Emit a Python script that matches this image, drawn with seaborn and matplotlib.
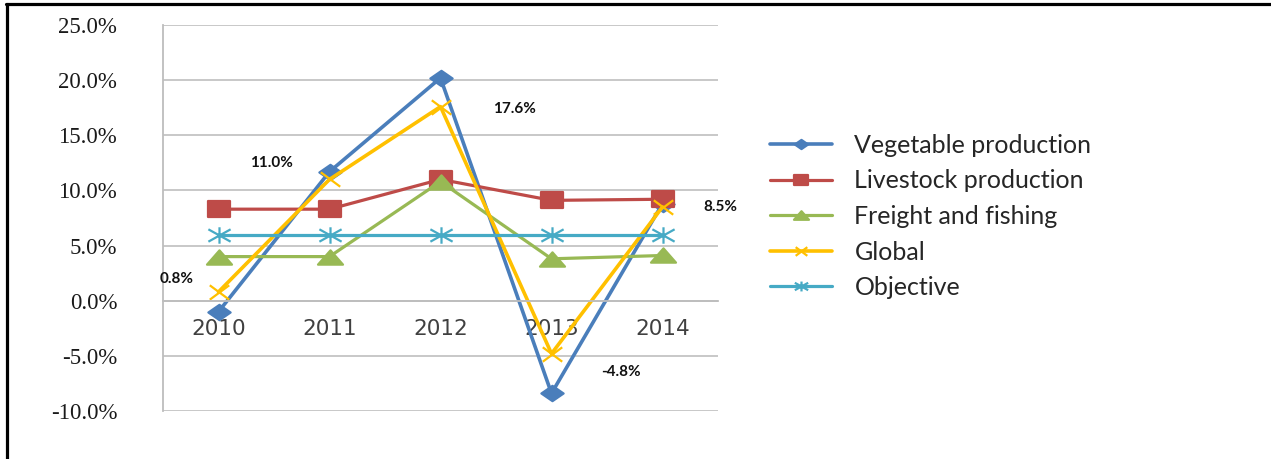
import numpy as np
import pandas as pd
import seaborn as sns
import matplotlib.pyplot as plt
from matplotlib.path import Path
from matplotlib.lines import Line2D
from matplotlib.ticker import FuncFormatter, FixedLocator

# data (growth rate, %)
years = ["2010", "2011", "2012", "2013", "2014"]
vegetable = [-1.0, 11.7, 20.2, -8.4, 8.8]
livestock = [8.3, 8.3, 11.0, 9.1, 9.2]
freight = [4.0, 4.0, 10.8, 3.8, 4.1]
global_rate = [0.8, 11.0, 17.6, -4.8, 8.5]
objective = [6.0, 6.0, 6.0, 6.0, 6.0]

series_names = ["Vegetable production", "Livestock production",
                "Freight and fishing", "Global", "Objective"]
series_values = [vegetable, livestock, freight, global_rate, objective]
global_labels = ["0.8%", "11.0%", "17.6%", "-4.8%", "8.5%"]

colors = ["#4a7ebb", "#be4b48", "#98b954", "#ffc000", "#46aac5"]

# markers a bit wider than tall, like the original
diamond = Path([(0, 1), (1.45, 0), (0, -1), (-1.45, 0), (0, 1)],
               [Path.MOVETO, Path.LINETO, Path.LINETO, Path.LINETO, Path.CLOSEPOLY])
square = Path([(-1.45, -1), (1.45, -1), (1.45, 1), (-1.45, 1), (-1.45, -1)],
              [Path.MOVETO, Path.LINETO, Path.LINETO, Path.LINETO, Path.CLOSEPOLY])
triangle = Path([(0, 1), (1.75, -1), (-1.75, -1), (0, 1)],
                [Path.MOVETO, Path.LINETO, Path.LINETO, Path.CLOSEPOLY])
xmark = Path([(-1.35, -1), (1.35, 1), (-1.35, 1), (1.35, -1)],
             [Path.MOVETO, Path.LINETO, Path.MOVETO, Path.LINETO])
star = Path([(0, -1), (0, 1), (-1.35, -0.75), (1.35, 0.75), (-1.35, 0.75), (1.35, -0.75)],
            [Path.MOVETO, Path.LINETO, Path.MOVETO, Path.LINETO, Path.MOVETO, Path.LINETO])
markers = [diamond, square, triangle, xmark, star]
msizes = [16, 16, 18, 14, 16]
lwidths = [2.6, 2.3, 2.3, 2.6, 2.3]

sns.set_style("white")
plt.rcParams['font.family'] = ['DejaVu Sans']

fig = plt.figure(figsize=(12.71, 4.59), dpi=100)
ax = fig.add_axes([163 / 1271, 1 - 411 / 459, (718 - 163) / 1271, (411 - 25) / 459])

for name, vals, col, mk, ms, lw in zip(series_names, series_values, colors,
                                        markers, msizes, lwidths):
    df = pd.DataFrame({"year": years, "value": vals})
    sns.lineplot(data=df, x="year", y="value", ax=ax, sort=False, label=name,
                 color=col, marker=mk, markersize=ms, linewidth=lw,
                 markeredgecolor=col, markerfacecolor=col, markeredgewidth=1.6)

# data labels for the Global series
offsets = [(-30, 9), (-42, 11.5), (53, -1.5), (50, -13), (42, 0)]
for i, (txt, off) in enumerate(zip(global_labels, offsets)):
    ax.annotate(txt, xy=(i, global_rate[i]), xytext=off, textcoords="offset points",
                ha="center", va="center", fontsize=11, fontweight="bold",
                family="Lato", color="#111111")

ax.set_xlim(-0.5, 4.5)
ax.set_ylim(-10, 25)
ax.set_yticks(np.arange(-10, 26, 5))
ax.yaxis.set_major_formatter(FuncFormatter(lambda v, p: f"{v:.1f}%"))
ax.grid(axis="y", color="#c4c4c4", linewidth=1.3)
ax.grid(axis="x", visible=False)
ax.set_axisbelow(True)
ax.set_xlabel("")
ax.set_ylabel("")

for s in ["top", "right"]:
    ax.spines[s].set_visible(False)
ax.spines["left"].set_color("#bdbdbd")
ax.spines["left"].set_linewidth(1.3)
ax.spines["bottom"].set_position(("data", 0))
ax.spines["bottom"].set_color("#bdbdbd")
ax.spines["bottom"].set_linewidth(1.3)

ax.tick_params(axis="y", direction="out", length=8, width=1.3, color="#c4c4c4",
               pad=25, labelsize=16.5, labelcolor="#1a1a1a")
for t in ax.get_yticklabels():
    t.set_family("Liberation Serif")
ax.xaxis.set_minor_locator(FixedLocator([0.5, 1.5, 2.5, 3.5]))
ax.tick_params(axis="x", which="major", length=0, pad=13, labelsize=15.5,
               labelcolor="#404040")
ax.tick_params(axis="x", which="minor", direction="out", length=4, width=1.3,
               color="#bdbdbd")

handles, labels = ax.get_legend_handles_labels()
leg = ax.legend(handles, labels, loc="center left",
                bbox_to_anchor=(757 / 1271, 1 - 216.5 / 459),
                bbox_transform=fig.transFigure, frameon=False, borderpad=0,
                handlelength=2.5, handletextpad=0.9, labelspacing=0.5,
                markerscale=0.6, prop={"family": "Lato", "size": 18})
for t in leg.get_texts():
    t.set_color("#262626")

# frame lines of the original picture (top and left edge)
fig.add_artist(Line2D([6 / 1271, 1], [1 - 4 / 459, 1 - 4 / 459],
                      transform=fig.transFigure, color="black", linewidth=2.3))
fig.add_artist(Line2D([7 / 1271, 7 / 1271], [0, 1 - 4 / 459],
                      transform=fig.transFigure, color="black", linewidth=2.3))

fig.savefig("out.png", dpi=100)
